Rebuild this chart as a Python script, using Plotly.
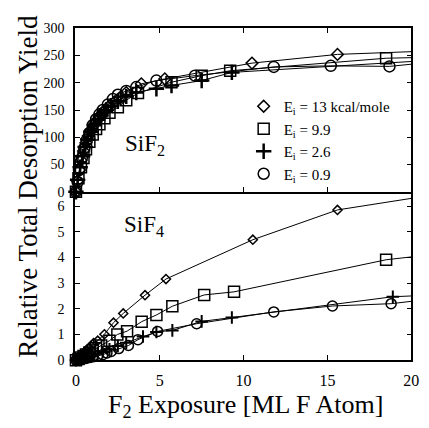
import plotly.graph_objects as go

# ---------------- data ----------------
# SiF2 (top panel)
sif2_d13_x = [0, 0.1, 0.2, 0.3, 0.45, 0.6, 0.75, 0.9, 1.05, 1.2, 1.4, 1.6, 1.8, 2.0, 2.3, 2.6, 3.0, 3.9, 5.3, 10.5, 15.6]
sif2_d13_y = [0, 20, 40, 58, 75, 90, 103, 113, 122, 130, 138, 146, 152, 158, 165, 172, 182, 198, 207, 236, 252]
sif2_d13_end = 257

sif2_s99_x = [0, 0.15, 0.3, 0.45, 0.6, 0.8, 1.0, 1.2, 1.4, 1.7, 2.0, 2.5, 3.0, 3.7, 5.7, 7.5, 9.2, 18.5]
sif2_s99_y = [0, 25, 45, 62, 78, 92, 105, 115, 124, 135, 145, 155, 168, 181, 201, 213, 222, 245]
sif2_s99_end = 246

sif2_p26_x = [0, 0.1, 0.25, 0.4, 0.55, 0.7, 0.9, 1.1, 1.3, 1.5, 1.8, 2.1, 2.5, 3.0, 3.6, 4.8, 5.7, 7.5, 9.3]
sif2_p26_y = [0, 22, 45, 65, 82, 96, 110, 122, 132, 140, 150, 158, 166, 175, 182, 189, 195, 204, 219]
sif2_p26_end = 239

sif2_c09_x = [0, 0.1, 0.2, 0.35, 0.5, 0.65, 0.8, 1.0, 1.2, 1.4, 1.6, 1.9, 2.2, 2.5, 3.0, 3.6, 4.8, 7.1, 11.8, 15.2, 18.7]
sif2_c09_y = [0, 18, 40, 62, 80, 95, 108, 122, 133, 142, 150, 160, 170, 178, 185, 192, 204, 213, 229, 231, 230]
sif2_c09_end = 234

# SiF4 (bottom panel)
sif4_d13_x = [0, 0.1, 0.2, 0.3, 0.4, 0.5, 0.6, 0.75, 0.9, 1.05, 1.3, 1.7, 2.24, 2.82, 4.12, 5.37, 10.55, 15.6]
sif4_d13_y = [0, 0.05, 0.11, 0.17, 0.24, 0.3, 0.37, 0.46, 0.56, 0.66, 0.76, 1.01, 1.46, 1.82, 2.53, 3.16, 4.69, 5.85]
sif4_d13_end = 6.3

sif4_s99_x = [0, 0.15, 0.3, 0.45, 0.6, 0.8, 1.0, 1.2, 1.5, 2.0, 2.47, 3.05, 3.92, 4.8, 5.75, 7.65, 9.43, 18.5]
sif4_s99_y = [0, 0.05, 0.1, 0.16, 0.22, 0.3, 0.38, 0.46, 0.57, 0.76, 1.0, 1.13, 1.5, 1.76, 2.1, 2.54, 2.66, 3.91]
sif4_s99_end = 4.02

sif4_p26_x = [0, 0.2, 0.4, 0.6, 0.8, 1.0, 1.3, 1.6, 2.0, 2.5, 3.0, 4.0, 4.8, 5.75, 7.5, 9.3, 18.9]
sif4_p26_y = [0, 0.03, 0.06, 0.1, 0.14, 0.18, 0.25, 0.32, 0.42, 0.55, 0.68, 0.92, 1.1, 1.16, 1.51, 1.66, 2.47]
sif4_p26_end = 2.5

sif4_c09_x = [0, 0.2, 0.4, 0.6, 0.8, 1.0, 1.3, 1.6, 1.85, 2.1, 2.55, 3.13, 3.7, 4.87, 7.2, 11.8, 15.3, 18.8]
sif4_c09_y = [0, 0.02, 0.04, 0.07, 0.1, 0.13, 0.17, 0.21, 0.28, 0.34, 0.45, 0.57, 0.8, 1.12, 1.42, 1.88, 2.11, 2.2]
sif4_c09_end = 2.29

legend_labels = ["E<sub>i</sub> = 13 kcal/mole", "E<sub>i</sub> = 9.9", "E<sub>i</sub> = 2.6", "E<sub>i</sub> = 0.9"]
x_ticks = [0, 5, 10, 15, 20]
top_ticks = [0, 50, 100, 150, 200, 250, 300]
bottom_ticks = [0, 1, 2, 3, 4, 5, 6]

FONT = "Liberation Serif"
X_END = 20

fig = go.Figure()

symbols = ["diamond-open", "square-open", "cross-thin-open", "circle-open"]
top_sizes = [9, 11, 11, 11]
bot_sizes = [7, 11, 9, 10]

top_series = [
    (sif2_d13_x, sif2_d13_y, sif2_d13_end),
    (sif2_s99_x, sif2_s99_y, sif2_s99_end),
    (sif2_p26_x, sif2_p26_y, sif2_p26_end),
    (sif2_c09_x, sif2_c09_y, sif2_c09_end),
]
bot_series = [
    (sif4_d13_x, sif4_d13_y, sif4_d13_end),
    (sif4_s99_x, sif4_s99_y, sif4_s99_end),
    (sif4_p26_x, sif4_p26_y, sif4_p26_end),
    (sif4_c09_x, sif4_c09_y, sif4_c09_end),
]

# bottom panel (x, y)
for i, (xs, ys, end) in enumerate(bot_series):
    fig.add_trace(go.Scatter(x=xs + [X_END], y=ys + [end], mode="lines",
                             line=dict(color="black", width=1), showlegend=False,
                             xaxis="x", yaxis="y"))
    fig.add_trace(go.Scatter(x=xs, y=ys, mode="markers", showlegend=False, cliponaxis=False,
                             marker=dict(symbol=symbols[i], size=bot_sizes[i], color="black",
                                         line=dict(color="black", width=2 if i == 2 else 1.5)),
                             xaxis="x", yaxis="y"))

# top panel (x2, y2)
for i, (xs, ys, end) in enumerate(top_series):
    fig.add_trace(go.Scatter(x=xs + [X_END], y=ys + [end], mode="lines",
                             line=dict(color="black", width=1), showlegend=False,
                             xaxis="x2", yaxis="y2"))
    fig.add_trace(go.Scatter(x=xs, y=ys, mode="markers", name=legend_labels[i], cliponaxis=False,
                             marker=dict(symbol=symbols[i], size=top_sizes[i], color="black",
                                         line=dict(color="black", width=2.5 if i == 2 else 1.5)),
                             xaxis="x2", yaxis="y2"))

W, H = 429, 428
L, R = 74, 419
TOP, MID, BOT = 22, 193, 366
LW = 1.5

axis_common = dict(showline=True, linecolor="black", linewidth=LW, mirror="ticks",
                   ticks="inside", ticklen=5, tickwidth=1.2, tickcolor="black",
                   showgrid=False, zeroline=False,
                   tickfont=dict(family=FONT, size=14, color="black"))

x_bottom = {**axis_common, "mirror": False, "tickfont": dict(family=FONT, size=16, color="black")}

fig.update_layout(
    width=W, height=H,
    margin=dict(l=0, r=0, t=0, b=0),
    paper_bgcolor="white", plot_bgcolor="white",
    showlegend=True,
    legend=dict(x=(267 - 20) / W, y=1 - 86 / H, xanchor="left", yanchor="top",
                font=dict(family=FONT, size=15, color="black"),
                bgcolor="rgba(0,0,0,0)", borderwidth=0, tracegroupgap=0),
    xaxis=dict(domain=[L / W, R / W], range=[-0.05, 20], tickvals=x_ticks,
               anchor="y", ticklabelstandoff=5, **x_bottom),
    yaxis=dict(domain=[1 - BOT / H, 1 - MID / H], range=[0, 6.5], tickvals=bottom_ticks,
               anchor="x", ticklabelstandoff=6, **axis_common),
    xaxis2=dict(domain=[L / W, R / W], range=[-0.05, 20], tickvals=x_ticks, matches="x",
                anchor="y2", showticklabels=False, **axis_common),
    yaxis2=dict(domain=[1 - (MID - LW) / H, 1 - TOP / H], range=[0, 300], tickvals=top_ticks,
                anchor="x2", ticklabelstandoff=6, **axis_common),
    annotations=[
        dict(text="Relative Total Desorption Yield", x=26 / W, y=1 - 186 / H, xref="paper", yref="paper",
             textangle=-90, showarrow=False, font=dict(family=FONT, size=27, color="black"),
             xanchor="center", yanchor="middle"),
        dict(text="F<sub>2</sub> Exposure [ML F Atom]", x=249 / W, y=1 - 414 / H, xref="paper", yref="paper",
             showarrow=False, font=dict(family=FONT, size=26, color="black"),
             xanchor="center", yanchor="middle"),
        dict(text="SiF<sub>2</sub>", x=123 / W, y=1 - 143 / H, xref="paper", yref="paper",
             showarrow=False, font=dict(family=FONT, size=23, color="black"),
             xanchor="left", yanchor="middle"),
        dict(text="SiF<sub>4</sub>", x=122 / W, y=1 - 227 / H, xref="paper", yref="paper",
             showarrow=False, font=dict(family=FONT, size=23, color="black"),
             xanchor="left", yanchor="middle"),
    ],
)

fig.write_html("out.html")
